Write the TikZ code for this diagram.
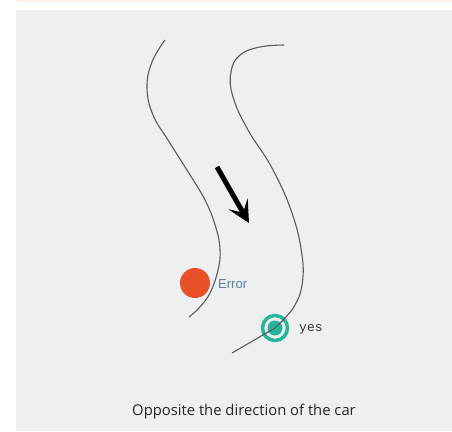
\documentclass[tikz,border=0pt]{standalone}
\usepackage{fontspec}
\setmainfont{Open Sans}
\newfontfamily\monofont{Liberation Mono}
\newfontfamily\narrowfont{Liberation Sans}
\usetikzlibrary{arrows.meta}
\definecolor{panel}{HTML}{EEEFEF}
\definecolor{strip}{HTML}{FBF1E8}
\definecolor{road}{HTML}{5A5A5A}
\definecolor{errred}{HTML}{E8502A}
\definecolor{errtext}{HTML}{5B7FA6}
\definecolor{okteal}{HTML}{26B59B}

\begin{document}
\begin{tikzpicture}
  [x=1pt,y=-1pt,
   edge/.style={draw=road,line width=1.1pt},
   bad/.style={circle,fill=errred,minimum size=30pt,inner sep=0pt},
   good/.style={circle,draw=okteal,line width=3.5pt,minimum size=25pt,inner sep=0pt},
   dot/.style={circle,fill=okteal,minimum size=15pt,inner sep=0pt}]
  \useasboundingbox (0,0) rectangle (452,431);
  \fill[strip] (16,0) rectangle (452,2);
  \fill[panel] (16,10) rectangle (452,431);

  \node[bad] (err) at (195,283) {};
  \node[text=errtext,font=\narrowfont\fontsize{13}{15}\selectfont,anchor=west,inner sep=0pt] (errlbl) at (218,284) {Error};
  \node[good] (ok) at (275,328) {};
  \node[dot] (okdot) at (ok) {};
  \node[text=black!80,font=\monofont\fontsize{13}{15}\selectfont,anchor=west,inner sep=0pt] (oklbl) at (299,329) {yes};
  \coordinate (tail) at (232,353);

  % road edges
  \draw[edge] plot[smooth,tension=0.7] coordinates {(165,40) (152,62) (147,88) (153,115) (168,140) (185,167) (205,200) (216,228) (220,250) (218,270) (210,293) (199,308) (189,317)};
  \draw[edge] plot[smooth,tension=0.7] coordinates {(284,45) (260,47) (240,55) (231,72) (233,97) (248,130) (272,168) (292,213) (302,255) (302,285) (295,305) (285,318) (275,328)};
  \draw[edge] (ok.center) -- (tail);

  % direction of the car
  \coordinate (from) at (217,167);
  \coordinate (to) at (249,223);
  \draw[line width=5pt,-{Stealth[length=22pt,width=22pt,inset=10pt]}] (from) -- (to);

  \node[font=\fontsize{14.8}{17}\selectfont,text=black!85] (cap) at (244,412) {Opposite the direction of the car};
\end{tikzpicture}
\end{document}
